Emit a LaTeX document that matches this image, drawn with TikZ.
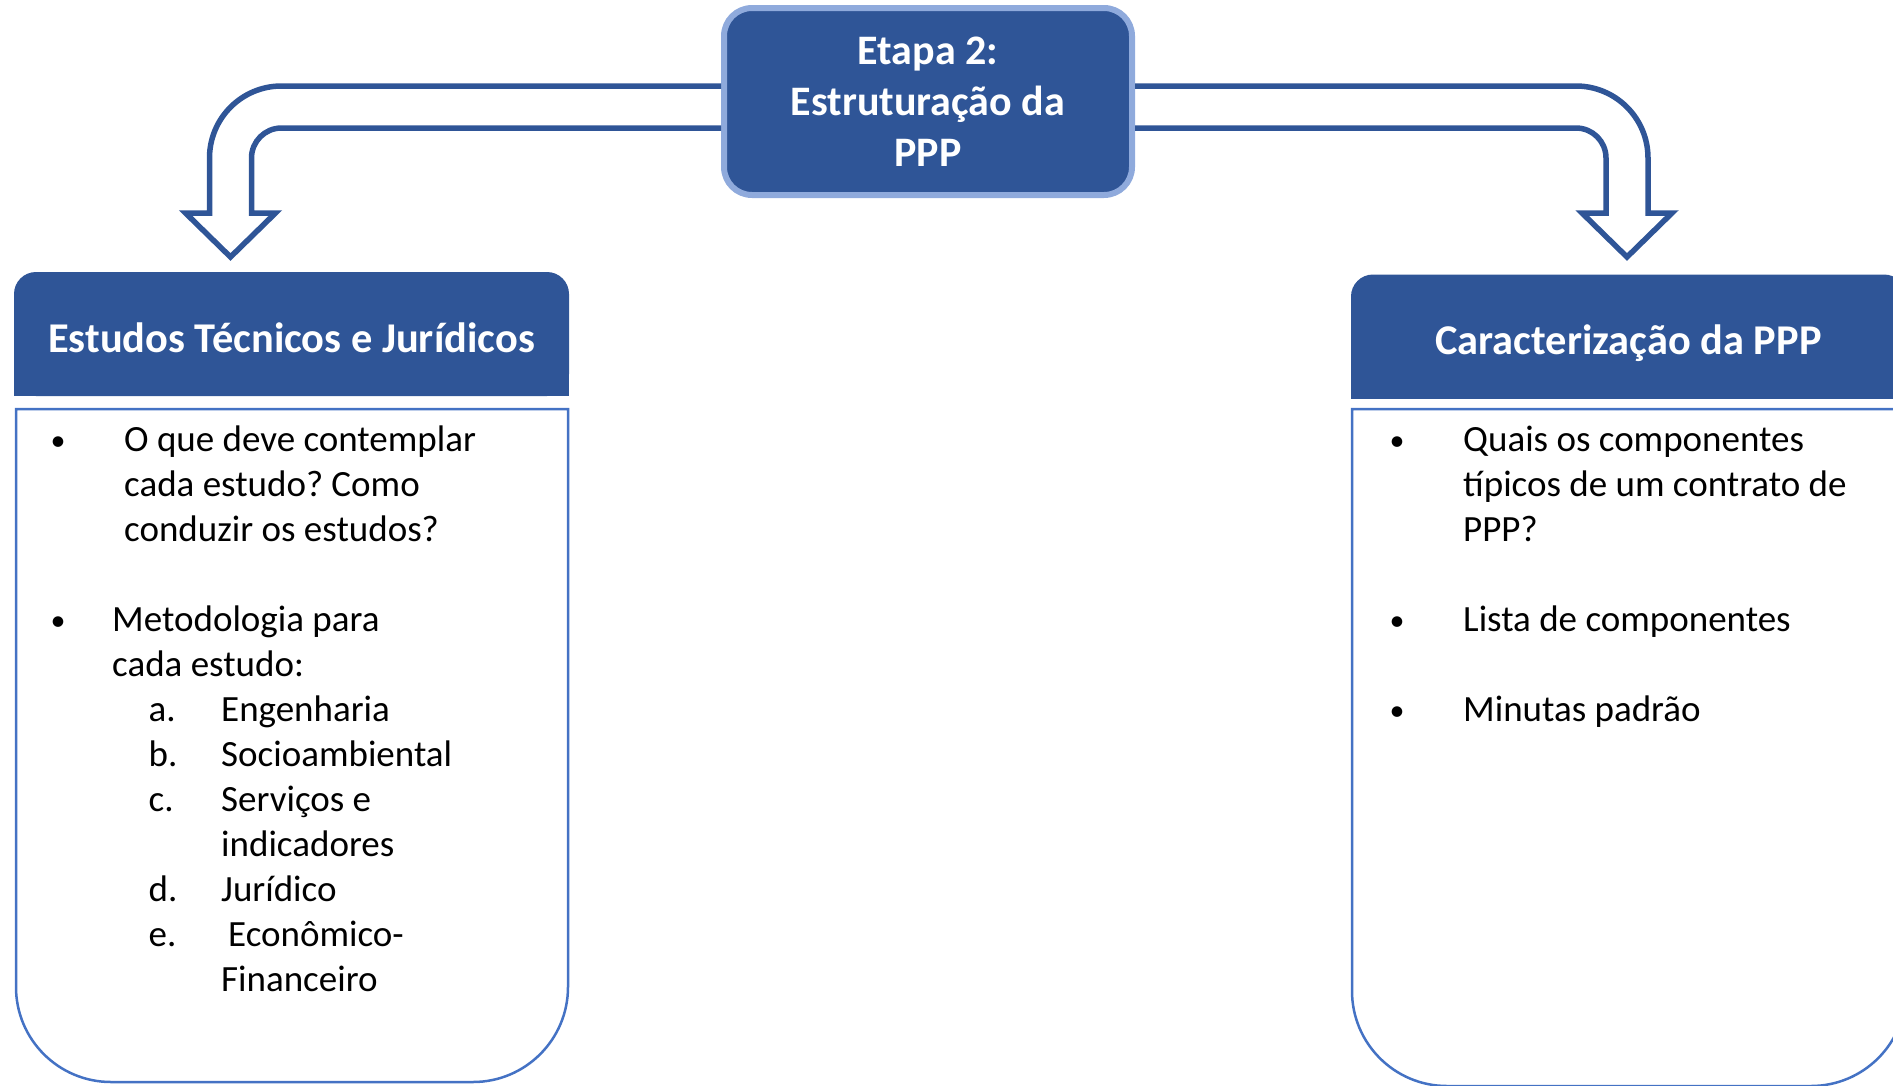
\documentclass[tikz,border=0pt]{standalone}
\usepackage{fontspec}
\setmainfont{Carlito}
\usepackage{tikz}
\frenchspacing

\definecolor{azul}{HTML}{2F5597}
\definecolor{azulclaro}{HTML}{8FAADC}
\definecolor{borda}{HTML}{4472C4}

\begin{document}
\begin{tikzpicture}[x=1pt,y=-1pt,
		etapa/.style={draw=azulclaro, fill=azul, line width=6pt, rounded corners=28pt, minimum width=408pt, minimum height=187pt, inner sep=0pt, align=center, text=white, font=\bfseries\fontsize{42}{51}\selectfont},
		cabeca/.style={fill=azul, rounded corners=22pt, minimum width=555pt, minimum height=124pt, inner sep=0pt, text=white, text height=36pt, text depth=0pt, font=\bfseries\fontsize{42.4}{51}\selectfont},
		seta/.style={draw=azul, line width=5.5pt},
		moldura/.style={draw=borda, line width=2.5pt},
		linha/.style={anchor=base west, inner sep=0pt, font=\fontsize{37}{45}\selectfont},
		ponto/.style={anchor=base, inner sep=0pt, font=\fontsize{30}{45}\selectfont}]
				\useasboundingbox (0,0) rectangle (1893,1085);
				\clip (0,0) rectangle (1893,1085);
				% Etapa
				\node[etapa] (etapa) at (928,101.5) {Etapa 2:\\Estruturação da\\PPP};
				% Setas
				\coordinate (pontaE) at (230.5,257);
				\coordinate (pontaD) at (1627,257);
				\draw[seta] (etapa.west |- 0,86) -- (281.5,86) arc[start angle=90, end angle=180, radius=72pt] -- (209.5,213) -- (185.5,213) -- (pontaE) -- (275.5,213) -- (251.5,213) -- (251.5,158) arc[start angle=180, end angle=90, radius=30pt] -- (etapa.west |- 0,128);
				\draw[seta] (etapa.east |- 0,86) -- (1576,86) arc[start angle=90, end angle=0, radius=72pt] -- (1648,213) -- (1672,213) -- (pontaD) -- (1582,213) -- (1606,213) -- (1606,158) arc[start angle=0, end angle=90, radius=30pt] -- (etapa.east |- 0,128);
				% Cabecalhos
				\fill[azul] (14,334) rectangle (569,396);
				\node[cabeca] (estudos) at (291.5,334) {Estudos Técnicos e Jurídicos};
				\fill[azul] (1351,336.5) rectangle (1906,398.5);
				\node[cabeca] (caract) at (1628.5,336.5) {Caracterização da PPP};
				% Molduras
				\draw[moldura] (16,409) -- (568,409) -- (568,987) arc[start angle=0, end angle=-90, radius=95pt] -- (111,1082) arc[start angle=270, end angle=180, radius=95pt] -- cycle;
				\draw[moldura] (1352,409) -- (1906,409) -- (1906,991) arc[start angle=0, end angle=-90, radius=95pt] -- (1447,1086) arc[start angle=270, end angle=180, radius=95pt] -- cycle;
				% Estudos
				\node[ponto] (pe1) at (58,450) {•};
				\foreach \z [count=\i from 0] in {O que deve contemplar, cada estudo? Como, conduzir os estudos?}
					\node[linha] (qe\i) at (124,451+45*\i) {\z};
				\node[ponto] (pe2) at (58,630) {•};
				\node[linha] (me1) at (112,631) {Metodologia para};
				\node[linha] (me2) at (112,676) {cada estudo:};
				\foreach \k/\rot/\txt in {6/a./Engenharia, 7/b./Socioambiental, 8/c./Serviços e, 10/d./Jurídico, 11/e./{\hspace*{7pt}Econômico-}} {
					\node[linha] (r\k) at (148.5,451+45*\k) {\rot};
					\node[linha] (t\k) at (221,451+45*\k) {\txt};
				}
				\node[linha] (t9) at (221,856) {indicadores};
				\node[linha] (t12) at (221,991) {Financeiro};
				% Caracterizacao
				\foreach \k in {0,4,6}
					\node[ponto] (pc\k) at (1397,450+45*\k) {•};
				\foreach \z [count=\i from 0] in {Quais os componentes, típicos de um contrato de, PPP?}
					\node[linha] (qc\i) at (1463,451+45*\i) {\z};
				\node[linha] (lc) at (1463,631) {Lista de componentes};
				\node[linha] (mc) at (1463,721) {Minutas padrão};
			\end{tikzpicture}
\end{document}
